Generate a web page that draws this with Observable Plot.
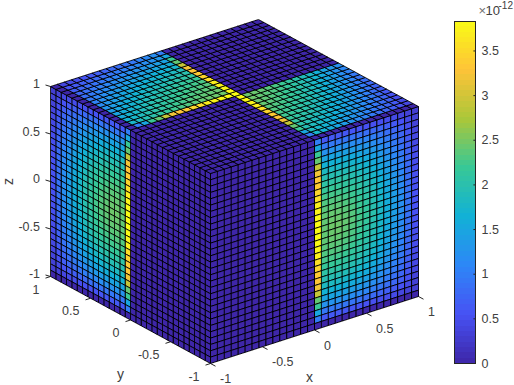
<!DOCTYPE html>
<html><head><meta charset="utf-8">
<script src="https://cdn.jsdelivr.net/npm/d3@7"></script>
<script src="https://cdn.jsdelivr.net/npm/@observablehq/plot@0.6"></script>
<style>
html,body{margin:0;padding:0;background:#fff;overflow:hidden}
#fig{position:relative;width:514px;height:385px}
#fig svg{position:absolute;top:0;display:block;background:transparent}
</style></head><body><div id="fig"></div>
<script>
const xTicks=[-1,-0.5,0,0.5,1], yTicks=[-1,-0.5,0,0.5,1], zTicks=[-1,-0.5,0,0.5,1];
const tickText=["-1","-0.5","0","0.5","1"];
const barTicks=[0,0.5,1,1.5,2,2.5,3,3.5];
const barText=["0","0.5","1","1.5","2","2.5","3","3.5"];
const parula=["#3e26a8","#4752f4","#2d87f7","#12b1d6","#37c897","#abc739","#fec338","#f9fb15"];
const colorMax=3.83;
const cellsPerSide=30;
// hundredths of 1e-12. Rows run top to bottom, columns outer edge to the hot stripe.
const sideFace=[
[30,35,40,45,48,50,52,54,56,58,60,62,62,60,100],
[33,45,55,62,68,74,80,85,88,90,92,94,95,94,150],
[36,52,66,76,85,93,101,108,113,118,121,124,125,124,220],
[39,58,75,87,98,108,118,126,132,138,142,145,147,147,240],
[42,63,82,96,109,121,132,142,149,156,160,164,166,166,290],
[44,68,89,104,119,132,145,156,164,171,176,180,182,182,320],
[46,72,95,111,127,142,156,168,177,185,190,194,196,196,330],
[48,76,100,118,135,151,166,179,188,196,202,206,208,207,335],
[50,79,105,123,141,158,175,188,198,206,212,216,218,217,345],
[51,82,109,128,147,164,182,196,206,214,220,224,226,225,355],
[52,84,112,132,151,169,188,202,212,221,226,231,232,231,370],
[53,86,115,135,154,173,192,207,217,226,231,236,237,235,375],
[54,88,117,137,157,176,196,210,220,230,235,240,241,238,380],
[55,89,119,139,159,178,198,213,223,233,238,243,243,239,383],
[55,90,120,140,160,180,200,215,225,235,240,245,245,240,383],
[55,89,119,139,159,178,198,213,223,233,238,243,243,239,383],
[54,88,117,137,157,176,196,210,220,230,235,240,241,238,380],
[53,86,115,135,154,173,192,207,217,226,231,236,237,235,375],
[52,84,112,132,151,169,188,202,212,221,226,231,232,231,370],
[51,82,109,128,147,164,182,196,206,214,220,224,226,225,355],
[50,79,105,123,141,158,175,188,198,206,212,216,218,217,345],
[48,76,100,118,135,151,166,179,188,196,202,206,208,207,335],
[46,72,95,111,127,142,156,168,177,185,190,194,196,196,330],
[44,68,89,104,119,132,145,156,164,171,176,180,182,182,320],
[42,63,82,96,109,121,132,142,149,156,160,164,166,166,290],
[39,58,75,87,98,108,118,126,132,138,142,145,147,147,240],
[36,52,66,76,85,93,101,108,113,118,121,124,125,124,220],
[33,45,55,62,68,74,80,85,88,90,92,94,95,94,150],
[30,35,40,45,48,50,52,54,56,58,60,62,62,60,100],
[0,0,0,0,0,0,0,0,0,0,0,0,0,0,0]];
const topQuadrant=[
[40,55,65,75,85,95,105,115,125,135,145,155,165,175],
[45,62,74,85,96,107,118,128,138,148,158,168,176,184],
[50,68,82,94,106,118,129,140,150,160,169,178,186,194],
[56,74,89,102,115,127,139,150,160,170,179,187,195,202],
[62,80,96,110,123,136,148,159,169,179,188,196,203,210],
[68,86,102,117,130,144,156,167,177,187,196,203,210,216],
[74,92,108,123,137,151,163,174,184,194,202,209,216,222],
[80,98,114,129,144,157,170,181,191,200,208,215,221,227],
[85,103,119,135,150,163,176,187,197,206,214,220,226,232],
[90,108,124,140,155,168,181,192,202,211,219,225,231,236],
[95,113,129,145,160,173,186,197,207,216,223,229,235,240],
[105,118,134,150,165,178,191,202,212,220,227,233,238,242],
[112,123,139,155,170,183,196,207,216,224,231,236,240,244],
[120,130,145,160,175,188,200,211,220,228,234,239,243,245]];
const stripe=[0,100,150,220,240,290,320,330,335,345,355,370,375,380,383];

// View of the cube: how one data unit of x, y and z lands on the page
const view={xu:104,xv:33.5,yu:-80,yv:43.5,zv:95};
const U=(x,y)=>view.xu*x+view.yu*y;
const V=(x,y,z)=>view.xv*x+view.yv*y+view.zv*z;
const edge=k=>k/15-1;
const n=cellsPerSide;

const cellValueTop=(i,j)=>{
  if(i===15) return j<15 ? stripe[j] : stripe[29-j+1>14?14:29-j+1];
  if(i<15&&j===15) return stripe[i];
  if(i<15&&i>=1&&j>15) return topQuadrant[i-1][29-j];
  if(i>15&&j<15&&j>=1) return topQuadrant[j-1][29-i];
  return 0;
};
const verts=[];
let id=0;
function quad(pts,val){
  id++;
  for(const p of [...pts,pts[0]]) verts.push({id,value:val/100,u:U(p[0],p[1]),v:V(p[0],p[1],p[2])});
}
for(let j=0;j<n;j++)for(let r=0;r<n;r++){
  const y0=edge(j),y1=edge(j+1),z0=1-r/15,z1=1-(r+1)/15;
  quad([[-1,y0,z0],[-1,y1,z0],[-1,y1,z1],[-1,y0,z1]], j<15?0:sideFace[r][29-j]);
}
for(let i=0;i<n;i++)for(let r=0;r<n;r++){
  const x0=edge(i),x1=edge(i+1),z0=1-r/15,z1=1-(r+1)/15;
  quad([[x0,-1,z0],[x1,-1,z0],[x1,-1,z1],[x0,-1,z1]], i<15?0:sideFace[r][29-i]);
}
for(let i=0;i<n;i++)for(let j=0;j<n;j++){
  const x0=edge(i),x1=edge(i+1),y0=edge(j),y1=edge(j+1);
  quad([[x0,y0,1],[x1,y0,1],[x1,y1,1],[x0,y1,1]], cellValueTop(i,j));
}

const ink="#404040";
const colorOpt={type:"linear",domain:[0,colorMax],interpolate:d3.piecewise(d3.interpolateRgb,parula)};
const font="'Liberation Sans',Arial,sans-serif";

const xT=xTicks.map((x,k)=>({u:U(x,-1),v:V(x,-1,-1),t:tickText[k]}));
const yT=yTicks.map((y,k)=>({u:U(-1,y),v:V(-1,y,-1),t:tickText[k]}));
const zT=zTicks.map((z,k)=>({u:U(-1,1),v:V(-1,1,z),t:tickText[k]}));
const tk=(rows,du,dv)=>Plot.link(rows,{x1:"u",y1:"v",x2:d=>d.u+du,y2:d=>d.v+dv,stroke:"#262626",strokeWidth:1});
const lab=(rows,anchor,dx,dy)=>Plot.text(rows,{x:"u",y:"v",text:"t",textAnchor:anchor,dx,dy,fontSize:12.5,fill:ink});

const main=Plot.plot({
  width:514,height:385,margin:0,style:{fontFamily:font,background:"transparent"},
  x:{domain:[-234,280],range:[0,514],axis:null},
  y:{domain:[-194,191],range:[385,0],axis:null},
  color:colorOpt,
  marks:[
    tk(xT,5,-2.7),tk(yT,-5,-1.6),tk(zT,-5,1.5),
    Plot.line(verts,{x:"u",y:"v",z:"id",fill:"value",stroke:"#000",strokeWidth:0.85,shapeRendering:"crispEdges"}),
    lab(xT,"start",9.5,15.5),lab(yT,"end",-11,13),lab(zT,"end",-10.5,-2.5),
    Plot.text([{u:U(0,-1),v:V(0,-1,-1)}],{x:"u",y:"v",text:()=>"x",dx:-5,dy:48,fontSize:14,fill:ink}),
    Plot.text([{u:U(-1,0),v:V(-1,0,-1)}],{x:"u",y:"v",text:()=>"y",dx:-10,dy:55,fontSize:14,fill:ink}),
    Plot.text([{u:U(-1,1),v:V(-1,1,0)}],{x:"u",y:"v",text:()=>"z",dx:-42,fontSize:14,rotate:-90,fill:ink})
  ]
});

const levels=d3.range(64);
const step=colorMax/64;
const bar=Plot.plot({
  width:84,height:385,marginLeft:24,marginRight:39,marginTop:21,marginBottom:22,
  style:{fontFamily:font,background:"transparent",overflow:"visible"},
  x:{domain:[0,1],axis:null},
  y:{domain:[0,colorMax],axis:null},
  color:colorOpt,
  marks:[
    Plot.rect(levels,{x1:0,x2:1,y1:d=>d*step,y2:d=>(d+1)*step,fill:d=>(d+0.5)*step,shapeRendering:"crispEdges"}),
    Plot.link(barTicks,{x1:0.9,x2:1,y1:d=>d,y2:d=>d,stroke:"#262626",strokeWidth:1}),
    Plot.frame({stroke:"#262626",strokeWidth:1}),
    Plot.text(barTicks,{x:1,y:d=>d,text:(d,i)=>barText[i],textAnchor:"start",dx:6,fontSize:12.5,fill:ink}),
    Plot.text(["×"],{x:1,y:colorMax,textAnchor:"start",dx:3,dy:-11,fontSize:13,fill:"#707070",text:d=>d}),
    Plot.text(["10"],{x:1,y:colorMax,textAnchor:"start",dx:10,dy:-11,fontSize:13,fill:ink,text:d=>d}),
    Plot.text(["-12"],{x:1,y:colorMax,textAnchor:"start",dx:23,dy:-16,fontSize:10,fill:ink,text:d=>d})
  ]
});
bar.style.left="430px";
const fig=document.getElementById("fig");
fig.append(main,bar);
</script></body></html>
